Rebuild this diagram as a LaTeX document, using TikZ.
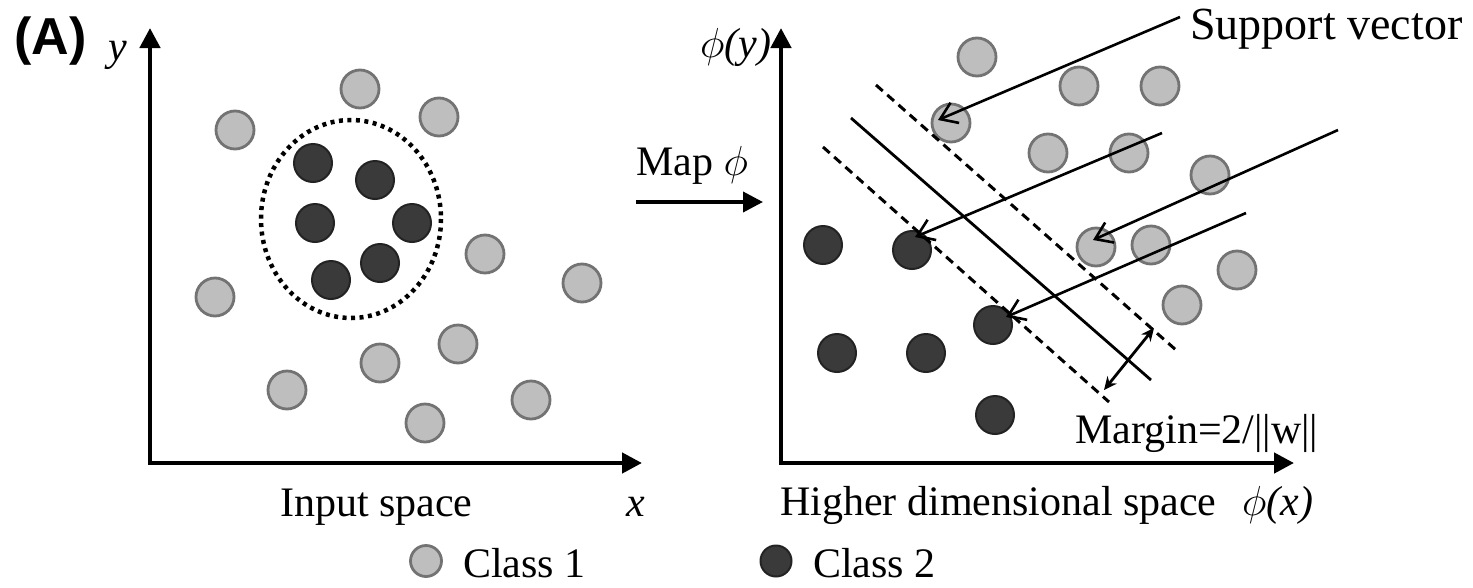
\RequirePackage{fix-cm}
\documentclass[tikz,border=0pt]{standalone}
\usepackage{fontspec}
\setmainfont{Liberation Serif}
\newfontfamily\labelsans{Liberation Sans}
\usetikzlibrary{arrows.meta,calc}
\definecolor{lightfill}{RGB}{190,190,190}
\definecolor{lightedge}{RGB}{115,115,115}
\definecolor{darkfill}{RGB}{58,58,58}
\definecolor{darkedge}{RGB}{35,35,35}
\begin{document}
\begin{tikzpicture}[x=1pt,y=-1pt,
  txt/.style={inner sep=0pt, anchor=base west, font=\fontsize{42}{48}\selectfont},
  cone/.style={circle, inner sep=0pt, minimum size=38pt, fill=lightfill, draw=lightedge, line width=2.8pt},
  ctwo/.style={circle, inner sep=0pt, minimum size=38pt, fill=darkfill, draw=darkedge, line width=2pt},
  tri/.tip={Triangle[length=20pt,width=20pt]},
  axisline/.style={line width=4.5pt, line join=miter, tri-tri},
  svarrow/.style={line width=2.6pt, -{Straight Barb[length=16pt,width=22pt]}},
  marginline/.style={line width=3pt, dash pattern=on 9pt off 6pt},
  hyperline/.style={line width=2.8pt},
  dotring/.style={line width=4.5pt, dash pattern=on 4pt off 4.5pt}
]
\useasboundingbox[fill=white] (0,0) rectangle (1473,587);

% ---------- left panel ----------
\coordinate (ly) at (150,28);
\coordinate (lo) at (150,463);
\coordinate (lx) at (642,463);
\draw[axisline] (ly) -- (lo) -- (lx);

\node[txt, font=\labelsans\bfseries\fontsize{52}{58}\selectfont] (lblA) at (14,54) {(A)};
\node[txt, font=\itshape\fontsize{42}{48}\selectfont] (lyl) at (108,60) {y};
\node[txt, font=\itshape\fontsize{42}{48}\selectfont] (lxl) at (626,516) {x};
\node[txt] (inspace) at (280,516) {Input space};

\foreach \n/\p in {a1/{(235,130)}, a2/{(360,89)}, a3/{(439,117)}, a4/{(485,254)},
  a5/{(582,283)}, a6/{(215,297)}, a7/{(458,344)}, a8/{(380,363)},
  a9/{(287,390)}, a10/{(531,400)}, a11/{(425,423)}}
  \node[cone] (\n) at \p {};
\foreach \n/\p in {b1/{(313,163)}, b2/{(375,180)}, b3/{(315,223)},
  b4/{(412,223)}, b5/{(380,263)}, b6/{(331,280)}}
  \node[ctwo] (\n) at \p {};
\draw[dotring] (351,219) ellipse [x radius=90, y radius=99];

% ---------- map arrow ----------
\node[txt] (maplbl) at (636,175) {Map $\phi$};
\coordinate (mapA) at (636,202);
\coordinate (mapB) at (763,202);
\draw[line width=3.8pt, -tri] (mapA) -- (mapB);

% ---------- right panel ----------
\coordinate (ry) at (781,28);
\coordinate (ro) at (781,463);
\coordinate (rx) at (1294,463);
\draw[axisline] (ry) -- (ro) -- (rx);

\node[txt] (phiy) at (700,57) {$\phi$\textit{(y)}};
\node[txt] (hispace) at (780,515) {Higher dimensional space};
\node[txt] (phix) at (1242,515) {$\phi$\textit{(x)}};
\node[txt, font=\fontsize{46}{52}\selectfont] (svlbl) at (1190,39) {Support vector};
\node[txt] (marginlbl) at (1075,443) {Margin=2/||w||};

\foreach \n/\p in {r1/{(977,57)}, r2/{(1079,86)}, r3/{(1160,86)}, sv1/{(951,123)},
  r5/{(1048,153)}, r6/{(1129,153)}, r7/{(1210,175)}, sv2/{(1096,247)},
  r9/{(1151,245)}, r10/{(1237,270)}, r11/{(1182,305)}}
  \node[cone] (\n) at \p {};
\foreach \n/\p in {d1/{(823,245)}, sv3/{(912,250)}, sv4/{(993,325)},
  d4/{(837,353)}, d5/{(926,353)}, d6/{(995,415)}}
  \node[ctwo] (\n) at \p {};

% hyperplane and margins
\coordinate (hu1) at (876,85);   \coordinate (hu2) at (1176,350);
\coordinate (hs1) at (851,118);  \coordinate (hs2) at (1151,380);
\coordinate (hl1) at (823,147);  \coordinate (hl2) at (1109,402);
\draw[marginline] (hu1) -- (hu2);
\draw[hyperline] (hs1) -- (hs2);
\draw[marginline] (hl1) -- (hl2);

% margin width arrow
\coordinate (mw1) at (1104,390);
\coordinate (mw2) at (1154,328);
\draw[line width=2.8pt, {Stealth[length=13pt,width=12pt]}-{Stealth[length=13pt,width=12pt]}] (mw1) -- (mw2);

% support vector pointers
\coordinate (s1) at (1180,17);
\coordinate (s2) at (1162,133);
\coordinate (s3) at (1338,130);
\coordinate (s4) at (1246,213);
\draw[svarrow] (s1) -- ($(sv1)+(-13,-3)$);
\draw[svarrow] (s2) -- ($(sv3)+(3,-13)$);
\draw[svarrow] (s3) -- ($(sv2)+(-3,-7)$);
\draw[svarrow] (s4) -- ($(sv4)+(13,-8)$);

% ---------- legend ----------
\node[cone, minimum size=31pt] (leg1) at (426,561) {};
\node[txt] (leg1t) at (463,577) {Class 1};
\node[ctwo, minimum size=31pt] (leg2) at (776,561) {};
\node[txt] (leg2t) at (813,577) {Class 2};
\end{tikzpicture}
\end{document}
